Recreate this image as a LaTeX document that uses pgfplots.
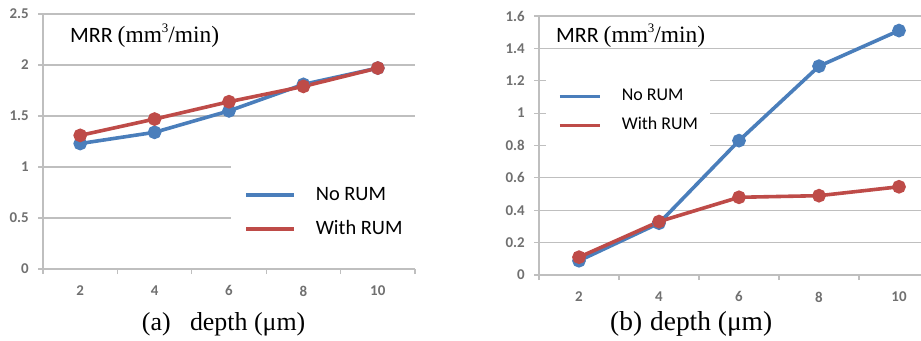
\documentclass[border=0pt]{standalone}
\usepackage{fontspec}
\setmainfont{Liberation Serif}
\newfontfamily\carlito{Carlito}
\usepackage{pgfplots}
\pgfplotsset{compat=1.18}
\definecolor{rumblue}{HTML}{4A7EBB}
\definecolor{rumred}{HTML}{BE4B48}
\definecolor{gridgray}{HTML}{BFBFBF}
\definecolor{ticktext}{HTML}{707070}

\pgfplotsset{
  mrr/.style={
    scale only axis,
    axis x line*=bottom, axis y line*=left,
    axis line style={gridgray, line width=1.2bp},
    ymajorgrids, grid style={gridgray, line width=1.2bp},
    tick align=outside,
    major tick length=5bp,
    every tick/.style={gridgray, line width=1.2bp},
    xtick={1,3,5,7,9,11},
    xticklabels={,,,,,},
    extra x ticks={2,4,6,8,10},
    extra x tick labels={2,4,6,8,10},
    extra x tick style={major tick length=0pt, grid=none},
    tick label style={font=\carlito\bfseries\fontsize{15}{17}\selectfont, text=ticktext, inner sep=0pt},
    /pgf/number format/assume math mode=true,
    yticklabel style={xshift=-9bp},
    xticklabel style={yshift=-16.5bp},
    clip=false,
    legend cell align=left,
    legend image code/.code={\draw[##1] (0bp,0bp) -- (\pgfkeysvalueof{/pgfplots/leglen},0bp);},
    every axis plot/.append style={line width=3.6bp, mark=*, mark size=5bp},
  },
  /pgfplots/leglen/.initial=48bp,
}
\newcommand{\mrrtitle}{{\carlito\fontsize{22}{26}\selectfont MRR}\hspace{5bp}{\fontsize{23.5}{28}\selectfont(mm\raisebox{0.42em}{\fontsize{13}{14}\selectfont 3}/min)}}

\begin{document}
\begin{tikzpicture}
\path[use as bounding box] (0,0) rectangle (921bp,341bp);

% ---------- (a) ----------
\begin{axis}[mrr,
  at={(43bp,72bp)}, anchor=south west,
  width=372bp, height=255bp,
  xmin=1, xmax=11, ymin=0, ymax=2.5,
  ytick={0,0.5,1,1.5,2,2.5},
  yticklabels={0,0.5,1,1.5,2,2.5},
  leglen=48bp,
  legend style={at={(0.5054,0.408)}, anchor=north west, draw=none, fill=white,
    inner xsep=13bp, inner ysep=20bp, row sep=14bp,
    font=\carlito\fontsize{20.5}{24}\selectfont,
    nodes={inner sep=0pt, text height=15bp, text depth=5bp},
    /tikz/every odd column/.append style={column sep=20bp}},
]
\addplot[rumblue, mark options={fill=rumblue}] coordinates {(2,1.23) (4,1.34) (6,1.55) (8,1.81) (10,1.97)};
\addlegendentry{No RUM}
\addplot[rumred, mark options={fill=rumred}] coordinates {(2,1.31) (4,1.47) (6,1.64) (8,1.79) (10,1.97)};
\addlegendentry{With RUM}
\end{axis}

% ---------- (b) ----------
\begin{axis}[mrr,
  at={(539bp,66bp)}, anchor=south west,
  width=382bp, height=259bp,
  xmin=1, xmax=10.55, ymin=0, ymax=1.6,
  xtick={1,3,5,7,9},
  xticklabels={,,,,},
  ytick={0,0.2,0.4,0.6,0.8,1,1.2,1.4,1.6},
  yticklabels={0,0.2,0.4,0.6,0.8,1,1.2,1.4,1.6},
  leglen=40bp,
  legend style={at={(0.0183,0.772)}, anchor=north west, draw=none, fill=white,
    inner xsep=12bp, inner ysep=13bp, row sep=12.5bp,
    font=\carlito\fontsize{18}{22}\selectfont,
    nodes={inner sep=0pt, text height=12bp, text depth=4.5bp},
    /tikz/every odd column/.append style={column sep=20bp}},
]
\addplot[rumblue, mark options={fill=rumblue}] coordinates {(2,0.088) (4,0.32) (6,0.83) (8,1.29) (10,1.51)};
\addlegendentry{No RUM}
\addplot[rumred, mark options={fill=rumred}] coordinates {(2,0.11) (4,0.33) (6,0.48) (8,0.49) (10,0.545)};
\addlegendentry{With RUM}
\end{axis}

% ---------- titles and captions ----------
\node[anchor=base west, inner sep=0pt] at (70bp,298.7bp) {\mrrtitle};
\node[anchor=base west, inner sep=0pt] at (556bp,298.7bp) {\mrrtitle};
\node[anchor=base west, inner sep=0pt] at (141.7bp,10.5bp)
  {\fontsize{26}{30}\selectfont (a)\hspace{19.4bp}depth (μm)};
\node[anchor=base west, inner sep=0pt] at (610bp,10.5bp)
  {\fontsize{27.5}{32}\selectfont (b)\hspace{8bp}depth (μm)};
\end{tikzpicture}
\end{document}
